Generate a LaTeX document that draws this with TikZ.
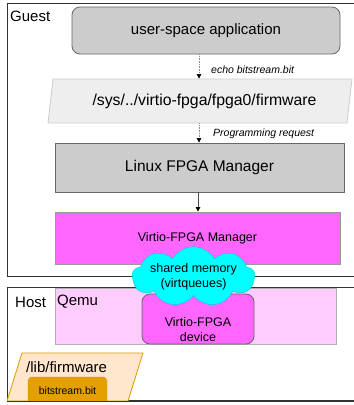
\documentclass[tikz,border=0pt]{standalone}
\usepackage{fontspec}
\setmainfont{Liberation Sans}
\usetikzlibrary{shapes.geometric,shapes.symbols,arrows.meta}

\definecolor{boxgray}{HTML}{CCCCCC}
\definecolor{pathgray}{HTML}{EEEEEE}
\definecolor{mgr}{HTML}{FF66FF}
\definecolor{qemu}{HTML}{FFCCFF}
\definecolor{shm}{HTML}{00FFFF}
\definecolor{shmline}{HTML}{00CCCC}
\definecolor{fwfill}{HTML}{FFE6CC}
\definecolor{fwline}{HTML}{D79B00}
\definecolor{bitfill}{HTML}{E3A000}

\begin{document}
\begin{tikzpicture}[x=1pt,y=-1pt,
  frame/.style={draw=black!80,line width=1pt,anchor=north west},
  graybox/.style={draw=black!60,fill=boxgray,line width=0.8pt},
  slanted/.style={trapezium,trapezium stretches body,line width=0.8pt},
  flowarrow/.style={-{Triangle[length=4.5pt,width=4.5pt,color=black]},line width=0.6pt},
  note/.style={font=\fontsize{10.5}{12}\itshape,anchor=west}]
\tikzstyle{every node}+=[inner sep=0pt]
\useasboundingbox (0,0) rectangle (354,405);
\clip (0,0) rectangle (354,405);
\node [frame,minimum width=360pt,minimum height=272.5pt] (guest) at (7,3) {};
\node [anchor=west,font=\fontsize{15}{18}\selectfont] (guestlbl) at (10,16.5) {Guest};
\node [graybox,rounded corners=8pt,minimum width=268pt,minimum height=47pt,font=\fontsize{15}{18}\selectfont] (app) at (206,30.5) {user-space application};
\node [slanted,draw=boxgray,fill=pathgray,trapezium left angle=71,trapezium right angle=109,minimum width=304pt,minimum height=44pt,font=\fontsize{15.8}{18}\selectfont] (sysfs) at (200,101) {\hspace*{9pt}/sys/../virtio-fpga/fpga0/firmware};
\node [graybox,minimum width=289pt,minimum height=49pt,font=\fontsize{15.5}{18}\selectfont] (fpgamgr) at (199.5,167.5) {Linux FPGA Manager};
\node [draw=black!40,fill=mgr,line width=0.8pt,minimum width=285pt,minimum height=52pt,font=\fontsize{12.5}{15}\selectfont] (vmgr) at (197.5,238) {Virtio-FPGA Manager};
\draw [flowarrow,black!45,densely dotted] (app.south -| 199,0) -- (sysfs.north -| 199,0);
\node [note] (echo) at (211,70) {echo bitstream.bit};
\draw [flowarrow,black!45,densely dotted] (sysfs.south -| 199,0) -- (fpgamgr.north -| 199,0);
\node [note] (progreq) at (213,133.5) {Programming request};
\draw [flowarrow,black!70,line width=0.8pt] (fpgamgr.south -| 198,0) -- (vmgr.north -| 198,0);
\node [frame,minimum width=360pt,minimum height=113pt] (host) at (7,287) {};
\node [anchor=west,font=\fontsize{15}{18}\selectfont] (hostlbl) at (15,302) {Host};
\node [draw=black!30,fill=qemu,line width=0.8pt,minimum width=281pt,minimum height=56pt] (qemu) at (195.5,316) {};
\node [anchor=west,font=\fontsize{15}{18}\selectfont] (qemulbl) at (57,302) {Qemu};
\node [draw=black!60,fill=mgr,rounded corners=8pt,line width=0.8pt,minimum width=112pt,minimum height=50pt] (device) at (198,319) {};
\node [align=center,font=\fontsize{12.5}{15}\selectfont] (devlbl) at (198,329.5) {Virtio-FPGA\\device};
\node [cloud,cloud puffs=9,cloud puff arc=120,cloud ignores aspect,draw=shmline,fill=shm,line width=0.4pt,minimum width=114pt,minimum height=46pt,align=center,font=\fontsize{12.5}{15}\selectfont] (shmem) at (193.5,276.5) {shared memory\\(virtqueues)};
\begin{scope}
\clip (7,287) rectangle (360,400);
\filldraw [draw=fwline,fill=fwfill,line width=0.8pt] (22,353) -- (143,353) -- (128,401) -- (7,401) -- cycle;
\node [draw=fwline,fill=bitfill,rounded corners=4pt,minimum width=79pt,minimum height=30pt] (bitfile) at (67.5,392) {};
\end{scope}
\node [anchor=west,font=\fontsize{15}{18}\selectfont] (libfwlbl) at (26,367) {/lib/firmware};
\node [font=\fontsize{10.5}{12}\selectfont] (bitlbl) at (67.5,391) {bitstream.bit};
\draw [black!80,line width=1pt] (host.south west) -- (host.south east);
\end{tikzpicture}
\end{document}
